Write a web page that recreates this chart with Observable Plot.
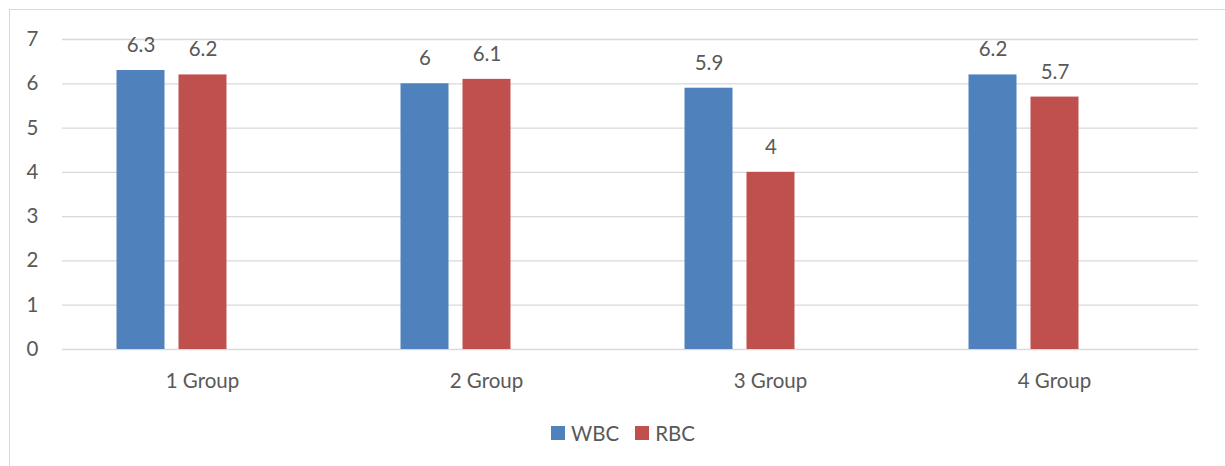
<!DOCTYPE html>
<html>
<head>
<meta charset="utf-8">
<script src="https://cdn.jsdelivr.net/npm/d3@7"></script>
<script src="https://cdn.jsdelivr.net/npm/@observablehq/plot@0.6"></script>
<style>
  html, body { margin: 0; padding: 0; background: #fff; }
  #wrap { position: relative; width: 1225px; height: 466px; overflow: hidden; font-family: Lato, "Open Sans", sans-serif; }
  #frame { position: absolute; left: 9px; top: 9px; width: 1230px; height: 470px; border: 1.5px solid #d9d9d9; box-sizing: border-box; }
  #chart { position: absolute; left: 0; top: 0; }
  #legend { position: absolute; left: 0; width: 1225px; top: 421px; display: flex; justify-content: center; align-items: center; gap: 0; font-size: 20.5px; color: #595959; padding-left: 21px; box-sizing: border-box; }
  .item { display: flex; align-items: center; margin: 0 8px; }
  .sw { width: 14px; height: 14px; margin-right: 6px; }
</style>
</head>
<body>
<div id="wrap">
  <div id="frame"></div>
  <div id="chart"></div>
  <div id="legend"></div>
</div>
<script>
const groups = ["1 Group", "2 Group", "3 Group", "4 Group"];
const series = ["WBC", "RBC"];
const wbc = [6.3, 6.0, 5.9, 6.2];
const rbc = [6.2, 6.1, 4.0, 5.7];
const yTicks = [0, 1, 2, 3, 4, 5, 6, 7];
const colors = ["#4F81BD", "#C0504D"];

const data = groups.flatMap((g, i) => [
  {group: g, series: "WBC", value: wbc[i]},
  {group: g, series: "RBC", value: rbc[i]}
]);

const textColor = "#595959";

const chart = Plot.plot({
  width: 1225,
  height: 400,
  marginLeft: 61,
  marginRight: 26,
  marginTop: 39,
  marginBottom: 51,
  style: {fontFamily: "Lato, 'Open Sans', sans-serif", background: "transparent"},
  fx: {domain: groups, padding: 0, label: null},
  x: {domain: ["WBC", "RBC", " "], paddingInner: 0.222, paddingOuter: 0.87, axis: null},
  y: {domain: [0, 7], label: null},
  color: {domain: series, range: colors},
  marks: [
    Plot.gridY(yTicks, {stroke: "#d9d9d9", strokeOpacity: 1, strokeWidth: 1.3}),
    Plot.axisY(yTicks, {tickSize: 0, tickPadding: 24, fontSize: 20.5, fill: textColor, label: null}),
    Plot.axisFx({anchor: "bottom", tickSize: 0, tickPadding: 24, dx: -2, fontSize: 20.5, fill: textColor, label: null}),
    Plot.barY(data, {fx: "group", x: "series", y: "value", fill: "series", dx: -1.5}),
    Plot.text(data, {fx: "group", x: "series", y: "value", text: d => String(d.value), dy: -25, dx: -1.5, fontSize: 20.5, fill: textColor})
  ]
});
document.getElementById("chart").appendChild(chart);

const legend = document.getElementById("legend");
series.forEach((s, i) => {
  const item = document.createElement("div");
  item.className = "item";
  const sw = document.createElement("div");
  sw.className = "sw";
  sw.style.background = colors[i];
  const lab = document.createElement("span");
  lab.textContent = s;
  item.appendChild(sw);
  item.appendChild(lab);
  legend.appendChild(item);
});
</script>
</body>
</html>
